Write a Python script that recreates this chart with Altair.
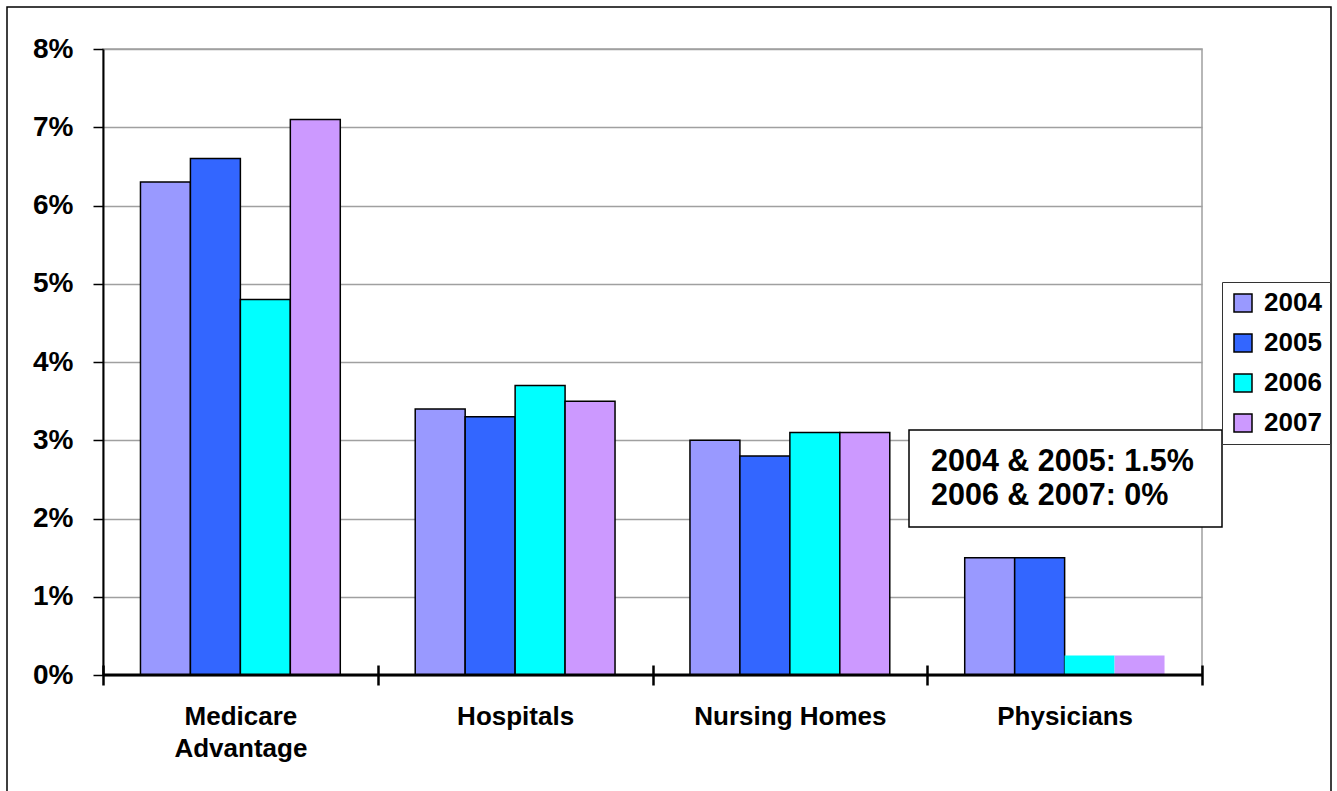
import altair as alt
import pandas as pd

categories = ["Medicare Advantage", "Hospitals", "Nursing Homes", "Physicians"]
years = ["2004", "2005", "2006", "2007"]
values_2004 = [6.3, 3.4, 3.0, 1.5]
values_2005 = [6.6, 3.3, 2.8, 1.5]
values_2006 = [4.8, 3.7, 3.1, 0.0]
values_2007 = [7.1, 3.5, 3.1, 0.0]
colors = ["#9999FF", "#3366FF", "#00FFFF", "#CC99FF"]
y_ticks = [0, 1, 2, 3, 4, 5, 6, 7, 8]
note_lines = ["2004 & 2005: 1.5%", "2006 & 2007: 0%"]
zero_marker = 0.25  # small visual marker drawn for 0% bars

series = [values_2004, values_2005, values_2006, values_2007]
rows = []
for yr, vals in zip(years, series):
    for cat, v in zip(categories, vals):
        rows.append({"category": cat, "year": yr, "value": v})
df = pd.DataFrame(rows)
df_zero = df[df["value"] == 0].assign(marker=zero_marker)

FONT = "Liberation Sans"

x_enc = alt.X("category:N", sort=categories, title=None,
              scale=alt.Scale(paddingInner=0, paddingOuter=0),
              axis=alt.Axis(domain=False, tickBand="extent", offset=-10,
                            tickSize=20, tickWidth=2.5, tickColor="black",
                            labelFontSize=26, labelFont=FONT, labelFontWeight="bold",
                            labelColor="black", labelAngle=0, labelPadding=18,
                            labelBaseline="top", labelLineHeight=32, labelLimit=0,
                            labelExpr="datum.label == 'Medicare Advantage' ? ['Medicare', 'Advantage'] : datum.label",
                            grid=False))
xo_enc = alt.XOffset("year:N", sort=years,
                     scale=alt.Scale(paddingOuter=0.75, paddingInner=0))
color_enc = alt.Color("year:N", sort=years,
                      scale=alt.Scale(domain=years, range=colors),
                      legend=alt.Legend(title=None, orient="none", legendX=1119, legendY=233,
                                        strokeColor="#333333", fillColor="white",
                                        padding=8, rowPadding=14, symbolType="square",
                                        symbolSize=324, symbolStrokeColor="black",
                                        symbolStrokeWidth=1.5, labelFontSize=26,
                                        labelFont=FONT, labelFontWeight="bold",
                                        labelColor="black", labelOffset=8))

bars = alt.Chart(df).mark_bar(stroke="black", strokeWidth=1.5).encode(
    x=x_enc,
    xOffset=xo_enc,
    y=alt.Y("value:Q", title=None,
            scale=alt.Scale(domain=[0, 8], nice=False),
            axis=alt.Axis(values=y_ticks, labelExpr="datum.value + '%'",
                          domainColor="black", domainWidth=2,
                          tickColor="black", tickWidth=1.5, tickSize=10,
                          gridColor="#a0a0a0", gridWidth=1.5,
                          labelFontSize=28, labelFont=FONT, labelFontWeight="bold",
                          labelColor="black", labelPadding=20)),
    color=color_enc,
)

stubs = alt.Chart(df_zero).mark_bar(strokeWidth=0).encode(
    x=alt.X("category:N", sort=categories),
    xOffset=alt.XOffset("year:N", sort=years),
    y=alt.Y("marker:Q"),
    color=alt.Color("year:N", sort=years, legend=None),
)

baseline = alt.Chart(pd.DataFrame({"v": [0]})).mark_rule(color="black", strokeWidth=3).encode(
    y=alt.Y("v:Q")
)

one = pd.DataFrame({"a": [0]})
frame = alt.Chart(one).mark_rect(fill=None, stroke="black", strokeWidth=1.5).encode(
    x=alt.value(-96), x2=alt.value(1228), y=alt.value(-42), y2=alt.value(800)
)
note_box = alt.Chart(one).mark_rect(fill="white", stroke="black", strokeWidth=1.5).encode(
    x=alt.value(806), x2=alt.value(1119), y=alt.value(381), y2=alt.value(478)
)
note_text = alt.Chart(pd.DataFrame({"t": ["\n".join(note_lines)]})).mark_text(
    align="left", baseline="alphabetic", font=FONT, fontWeight="bold",
    fontSize=30.5, lineBreak="\n", lineHeight=34, color="black"
).encode(x=alt.value(828), y=alt.value(422), text="t:N")

chart = alt.layer(frame, bars, stubs, baseline, note_box, note_text).properties(
    width=1099, height=626,
    padding={"left": 103, "top": 49, "right": 135, "bottom": 116},
    autosize=alt.AutoSizeParams(type="none"),
    background="white",
).configure_view(stroke="#a0a0a0", strokeWidth=1.5)

chart.save("out.html", embed_options={"renderer": "svg", "actions": False})
